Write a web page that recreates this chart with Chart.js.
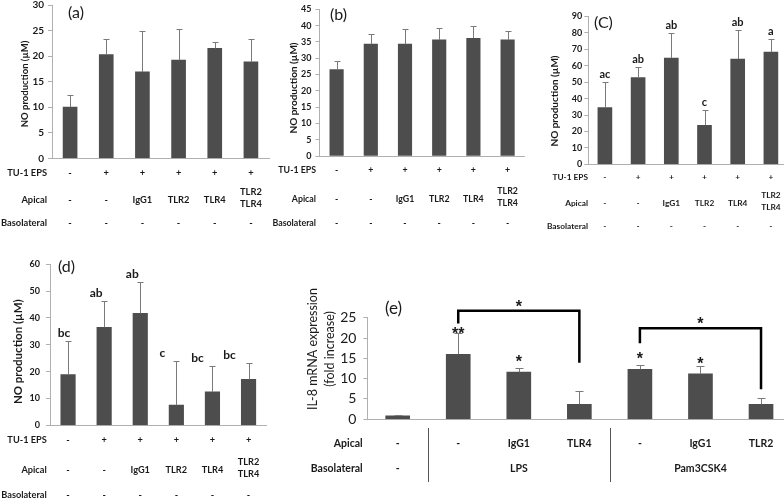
<!DOCTYPE html>
<html>
<head>
<meta charset="utf-8">
<script src="https://cdn.jsdelivr.net/npm/chart.js@4.4.1/dist/chart.umd.min.js"></script>
<style>
  html, body { margin: 0; padding: 0; background: #fff; overflow: hidden; }
  #wrap { position: relative; width: 784px; height: 499px; overflow: hidden; }
  #wrap canvas { position: absolute; left: 0; top: 0; }
</style>
</head>
<body>
<div id="wrap">
  <canvas id="chartA" width="800" height="499"></canvas>
  <canvas id="chartB" width="800" height="499"></canvas>
  <canvas id="chartC" width="800" height="499"></canvas>
  <canvas id="chartD" width="800" height="499"></canvas>
  <canvas id="chartE" width="800" height="499"></canvas>
</div>
<script>
// ---- datos de los paneles (a)-(d): NO production (uM) ----
const noCategories = ['Control', 'EPS', 'EPS + IgG1', 'EPS + TLR2', 'EPS + TLR4', 'EPS + TLR2/TLR4'];
const epsRow = ['-', '+', '+', '+', '+', '+'];
const apicalRow = ['-', '-', 'IgG1', 'TLR2', 'TLR4', 'TLR2\nTLR4'];
const basolateralRow = ['-', '-', '-', '-', '-', '-'];

const meanA = [10.0, 20.3, 16.9, 19.2, 21.5, 18.9];
const sdA = [2.3, 3.0, 8.0, 6.1, 1.2, 4.5];

const meanB = [26.5, 34.3, 34.3, 35.6, 36.1, 35.6];
const sdB = [2.6, 3.1, 4.7, 3.7, 3.9, 2.7];

const meanC = [34.5, 52.8, 64.7, 23.8, 64.1, 68.4];
const sdC = [15.6, 6.5, 15.4, 9.1, 17.8, 8.1];
const lettersC = ['ac', 'ab', 'ab', 'c', 'ab', 'a'];

const meanD = [18.9, 36.5, 41.7, 7.5, 12.5, 17.1];
const sdD = [12.5, 9.8, 11.6, 16.4, 9.5, 6.3];
const lettersD = ['bc', 'ab', 'ab', 'c', 'bc', 'bc'];

// ---- panel (e): IL-8 mRNA (fold increase) ----
const il8Categories = ['Control', 'LPS', 'LPS + IgG1', 'LPS + TLR4', 'Pam3CSK4', 'Pam3CSK4 + IgG1', 'Pam3CSK4 + TLR2'];
const il8Apical = ['-', '-', 'IgG1', 'TLR4', '-', 'IgG1', 'TLR2'];
const il8Basolateral = ['-', 'LPS', 'LPS', 'LPS', 'Pam3CSK4', 'Pam3CSK4', 'Pam3CSK4'];
const il8Mean = [0.85, 16.0, 11.6, 3.7, 12.3, 11.2, 3.7];
const il8Sd = [0.25, 5.3, 1.1, 3.3, 1.1, 1.8, 1.6];
const il8Stars = ['', '**', '*', '', '*', '*', ''];
// comparaciones: de una barra a otra, en unidades del eje y
const il8Brackets = [
    { from: 1, to: 3, top: 26.7, leftEnd: 23.6, rightEnd: 13.9 },
    { from: 4, to: 6, top: 22.4, leftEnd: 18.7, rightEnd: 7.4 }
];

const FONT = 'Lato, "Open Sans", sans-serif';
const TEXT = '#1a1a1a';
const AXIS = '#b0b0b0';
const BAR = '#4d4d4d';
const YAXIS_W = 30;

function panelPlugin(p) {
    return {
        id: 'panel',
        afterDatasetsDraw(chart) {
            const ctx = chart.ctx;
            const xs = chart.scales.x, ys = chart.scales.y;
            ctx.save();
            // barras de error (solo hacia arriba)
            ctx.strokeStyle = '#7a7a7a';
            ctx.lineWidth = p.errWidth || 1;
            p.mean.forEach((m, i) => {
                const cx = Math.round(xs.getPixelForValue(i)) + 0.5;
                const y0 = ys.getPixelForValue(m);
                const y1 = Math.round(ys.getPixelForValue(m + p.sd[i])) + 0.5;
                ctx.beginPath();
                ctx.moveTo(cx, y0); ctx.lineTo(cx, y1);
                ctx.moveTo(cx - p.cap, y1); ctx.lineTo(cx + p.cap, y1);
                ctx.stroke();
            });
            ctx.restore();
        },
        afterDraw(chart) {
            const ctx = chart.ctx;
            const xs = chart.scales.x, ys = chart.scales.y;
            ctx.save();
            ctx.fillStyle = TEXT;

            // etiqueta del panel
            ctx.font = `${p.tag.size}px ${FONT}`;
            ctx.textAlign = 'left';
            ctx.textBaseline = 'middle';
            ctx.fillText(p.tag.text, p.tag.x, p.tag.y);

            // titulo eje y
            ctx.font = `${p.yTitle.weight || 'normal'} ${p.yTitle.size}px ${FONT}`;
            ctx.textAlign = 'center';
            ctx.textBaseline = 'middle';
            const gap = p.yTitle.gap || 0;
            p.yTitle.lines.forEach((line, k) => {
                ctx.save();
                ctx.translate(p.yTitle.x + k * gap, p.yTitle.y);
                ctx.rotate(-Math.PI / 2);
                ctx.fillText(line, 0, 0);
                ctx.restore();
            });

            // letras / asteriscos sobre las barras
            if (p.marks) {
                ctx.font = p.marks.font;
                ctx.textAlign = 'center';
                ctx.textBaseline = 'alphabetic';
                p.marks.text.forEach((t, i) => {
                    if (!t) return;
                    const cx = xs.getPixelForValue(i) + (p.marks.dx ? p.marks.dx[i] : 0);
                    const top = ys.getPixelForValue(p.mean[i] + p.sd[i]);
                    const dy = p.marks.dy ? p.marks.dy[i] : p.marks.gap;
                    ctx.fillText(t, cx, top + dy);
                });
            }

            // corchetes de comparacion
            if (p.brackets) {
                ctx.strokeStyle = '#000';
                ctx.lineWidth = 2.5;
                ctx.lineJoin = 'miter';
                p.brackets.forEach(b => {
                    const x0 = xs.getPixelForValue(b.from), x1 = xs.getPixelForValue(b.to);
                    const yt = ys.getPixelForValue(b.top);
                    ctx.beginPath();
                    ctx.moveTo(x0, ys.getPixelForValue(b.leftEnd));
                    ctx.lineTo(x0, yt);
                    ctx.lineTo(x1, yt);
                    ctx.lineTo(x1, ys.getPixelForValue(b.rightEnd));
                    ctx.stroke();
                    ctx.font = p.marks.font;
                    ctx.textAlign = 'center';
                    ctx.textBaseline = 'alphabetic';
                    ctx.fillText('*', (x0 + x1) / 2, yt + 1);
                });
            }

            // tabla de condiciones
            ctx.font = `bold ${p.table.size}px ${FONT}`;
            ctx.textBaseline = 'middle';
            p.table.rows.forEach(row => {
                ctx.textAlign = 'right';
                ctx.fillText(row.label, p.table.labelRight, row.y);
                ctx.textAlign = 'center';
                if (row.grouped) {
                    // celdas iguales y seguidas se juntan en una
                    let start = 0;
                    for (let i = 1; i <= row.cells.length; i++) {
                        if (i === row.cells.length || row.cells[i] !== row.cells[start]) {
                            const cx = (xs.getPixelForValue(start) + xs.getPixelForValue(i - 1)) / 2;
                            ctx.fillText(row.cells[start], cx, row.y);
                            if (i < row.cells.length) {
                                const sx = Math.round((xs.getPixelForValue(i - 1) + xs.getPixelForValue(i)) / 2) + 0.5;
                                ctx.strokeStyle = '#555';
                                ctx.lineWidth = 1;
                                ctx.beginPath();
                                ctx.moveTo(sx, p.table.sepTop);
                                ctx.lineTo(sx, p.table.sepBottom);
                                ctx.stroke();
                            }
                            start = i;
                        }
                    }
                } else {
                    row.cells.forEach((c, i) => {
                        const cx = xs.getPixelForValue(i);
                        const parts = c.split('\n');
                        if (parts.length === 1) {
                            ctx.fillText(c, cx, row.y);
                        } else {
                            ctx.fillText(parts[0], cx, row.y - 8);
                            ctx.fillText(parts[1], cx, row.y + 4);
                        }
                    });
                }
            });
            ctx.restore();
        }
    };
}

function makePanel(id, labels, p) {
    new Chart(document.getElementById(id), {
        type: 'bar',
        data: {
            labels: labels,
            datasets: [{ data: p.mean, backgroundColor: BAR, barThickness: p.barW }]
        },
        options: {
            responsive: false,
            animation: false,
            events: [],
            layout: {
                padding: {
                    left: p.area.l - YAXIS_W,
                    top: p.area.t,
                    right: 800 - p.area.r,
                    bottom: 499 - p.area.b
                }
            },
            plugins: { legend: { display: false }, tooltip: { enabled: false } },
            scales: {
                x: {
                    grid: { display: false },
                    border: { color: AXIS },
                    ticks: { display: false },
                    afterFit(s) { s.height = 0; s.paddingLeft = 0; s.paddingRight = 0; }
                },
                y: {
                    min: 0,
                    max: p.yMax,
                    ticks: {
                        stepSize: p.step,
                        padding: p.tickPad,
                        color: TEXT,
                        font: { family: FONT, size: p.tickSize, weight: p.tickWeight || 'bold' }
                    },
                    grid: { drawOnChartArea: false, drawTicks: true, tickLength: 4, color: AXIS },
                    border: { color: AXIS },
                    afterFit(s) { s.width = YAXIS_W; s.paddingTop = 0; s.paddingBottom = 0; }
                }
            }
        },
        plugins: [panelPlugin(p)]
    });
}

function noTable(labelRight, ys, size) {
    return {
        labelRight: labelRight,
        size: size,
        rows: [
            { label: 'TU-1 EPS', cells: epsRow, y: ys[0] },
            { label: 'Apical', cells: apicalRow, y: ys[1] },
            { label: 'Basolateral', cells: basolateralRow, y: ys[2] }
        ]
    };
}

const yTitleNO = 'NO production (\u00B5M)';

makePanel('chartA', noCategories, {
    mean: meanA, sd: sdA, yMax: 30, step: 5,
    area: { l: 52, t: 5, r: 269, b: 158.3 },
    barW: 14, cap: 3, tickSize: 10, tickPad: 4,
    tag: { text: '(a)', x: 68, y: 13, size: 16 },
    yTitle: { lines: [yTitleNO], x: 25, y: 84, size: 9.5, weight: 'bold' },
    table: noTable(47, [173.3, 200, 223.3], 9.3)
});

makePanel('chartB', noCategories, {
    mean: meanB, sd: sdB, yMax: 45, step: 5,
    area: { l: 319.5, t: 9.3, r: 524.7, b: 156 },
    barW: 13.5, cap: 3, tickSize: 9, tickPad: 4,
    tag: { text: '(b)', x: 330, y: 15, size: 16 },
    yTitle: { lines: [yTitleNO], x: 293.3, y: 88, size: 10, weight: 'bold' },
    table: noTable(316, [170, 199, 223], 8.8)
});

makePanel('chartC', noCategories, {
    mean: meanC, sd: sdC, yMax: 90, step: 10,
    area: { l: 588.3, t: 16.5, r: 787.5, b: 164.3 },
    barW: 14, cap: 3, tickSize: 9, tickPad: 2,
    tag: { text: '(C)', x: 594, y: 22.7, size: 16 },
    yTitle: { lines: [yTitleNO], x: 555, y: 101, size: 10, weight: 'bold' },
    marks: { text: lettersC, font: `bold 11px ${FONT}`, gap: -4 },
    table: noTable(588, [177, 203, 226], 8.3)
});

makePanel('chartD', noCategories, {
    mean: meanD, sd: sdD, yMax: 60, step: 10,
    area: { l: 50, t: 264.3, r: 266.6, b: 425.3 },
    barW: 14.5, cap: 3, tickSize: 9, tickPad: 6,
    tag: { text: '(d)', x: 58, y: 266.7, size: 16 },
    yTitle: { lines: [yTitleNO], x: 18.3, y: 351.7, size: 11.5, weight: 'bold' },
    marks: { text: lettersD, font: `bold 12px ${FONT}`, gap: -4, dx: [-4, -8, -8, -14, -15, -19] },
    table: noTable(46.7, [440, 470, 495], 9.2)
});

makePanel('chartE', il8Categories, {
    mean: il8Mean, sd: il8Sd, yMax: 25, step: 5,
    area: { l: 367.4, t: 317.7, r: 791.3, b: 419.3 },
    barW: 24, cap: 4, tickSize: 14, tickPad: 7, tickWeight: 'normal',
    tag: { text: '(e)', x: 385, y: 308.3, size: 17 },
    yTitle: { lines: ['IL-8 mRNA expression', '(fold increase)'], x: 313, gap: 17, y: 349, size: 12.5 },
    marks: { text: il8Stars, font: 'bold 16px "Liberation Sans", Arial, sans-serif', dy: [0, 6, -1, 0, -1, 3, 0] },
    brackets: il8Brackets,
    table: {
        labelRight: 362.7, size: 10.5, sepTop: 428, sepBottom: 482,
        rows: [
            { label: 'Apical', cells: il8Apical, y: 444 },
            { label: 'Basolateral', cells: il8Basolateral, y: 469, grouped: true }
        ]
    }
});
</script>
</body>
</html>
